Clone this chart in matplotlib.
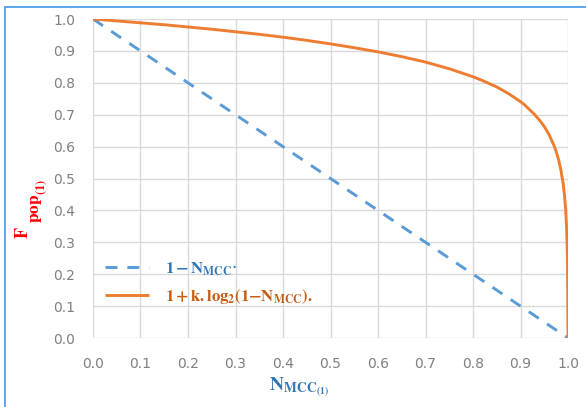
import matplotlib
matplotlib.use("Agg")
import matplotlib.pyplot as plt
from matplotlib.lines import Line2D

plt.rcParams['mathtext.fontset'] = 'stix'

# values
n_mcc = [0.0, 1.0]
f_linear = [1.0, 0.0]

n_log = [0.0, 0.05, 0.1, 0.15, 0.2, 0.25, 0.3, 0.35, 0.4, 0.45, 0.5, 0.55,
         0.6, 0.65, 0.7, 0.75, 0.8, 0.82, 0.85, 0.875, 0.9, 0.91, 0.93, 0.94,
         0.95, 0.96, 0.97, 0.975, 0.98, 0.985, 0.99, 0.9925, 0.995, 0.997,
         0.998, 0.9985, 0.999, 0.9995, 0.9998, 1.0]
f_log = [1.0, 0.994, 0.988, 0.982, 0.975, 0.968, 0.960, 0.952, 0.943, 0.933,
         0.922, 0.910, 0.897, 0.882, 0.865, 0.844, 0.819, 0.807, 0.787, 0.766,
         0.741, 0.729, 0.700, 0.683, 0.663, 0.638, 0.605, 0.585, 0.560, 0.527,
         0.482, 0.449, 0.404, 0.346, 0.300, 0.268, 0.222, 0.144, 0.041, 0.0]

ticks = [0.0, 0.1, 0.2, 0.3, 0.4, 0.5, 0.6, 0.7, 0.8, 0.9, 1.0]
tick_labels = ['%.1f' % t for t in ticks]

blue = '#5b9bd5'
orange = '#ed7d31'
W, H = 586, 407

fig = plt.figure(figsize=(5.86, 4.07), dpi=100)
ax = fig.add_axes([0.1587, 0.1695, 0.8106, 0.7838])

ax.plot(n_mcc, f_linear, color=blue, lw=2.1, dashes=(4.1, 3.4),
        label=r'$\mathbf{1-N_{MCC}}$·')
ax.plot(n_log, f_log, color=orange, lw=2.1, solid_capstyle='butt',
        label=r'$\mathbf{1+k.log_{2}(1{-}N_{MCC}).}$')

ax.set_xlim(0, 1)
ax.set_ylim(0, 1)
ax.set_xticks(ticks)
ax.set_yticks(ticks)
ax.set_xticklabels(tick_labels)
ax.set_yticklabels(tick_labels)
ax.tick_params(length=0, labelsize=10, labelcolor='#7f7f7f')
ax.tick_params(axis='x', pad=13.5)
ax.tick_params(axis='y', pad=13)
ax.grid(True, color='#d9d9d9', lw=1)
ax.set_axisbelow(True)
for s in ax.spines.values():
    s.set_visible(False)

ax.set_xlabel(r'$\mathbf{N_{MCC_{(1)}}}$', color='#2e75b6', fontsize=14)
ax.xaxis.set_label_coords(0.434, -0.118)

# y label F_pop(1): subscripts are drawn larger than mathtext would, so piece by piece
ylab = [(r'$\mathbf{F}$', 13, 28, 239),
        (r'$\mathbf{pop}$', 12.5, 39, 223),
        (r'$\mathbf{(1)}$', 9, 45, 195)]
for s, size, px, py in ylab:
    fig.text(px / W, 1 - py / H, s, color='#ff0000', fontsize=size, rotation=90,
             rotation_mode='anchor', ha='left', va='baseline')

leg = ax.legend(loc='center left', bbox_to_anchor=(0.011, 0.174), frameon=False,
                borderaxespad=0, fontsize=12, handlelength=2.64, handletextpad=0.96,
                labelspacing=0.55)
for txt, c in zip(leg.get_texts(), ['#2e75b6', '#c55a11']):
    txt.set_color(c)

# light blue frame round the picture (top and left edges)
fig.add_artist(Line2D([5 / W, 1.0], [1 - 7 / H, 1 - 7 / H], color='#5aa7f0', lw=1.4))
fig.add_artist(Line2D([5 / W, 5 / W], [0.0, 1 - 7 / H], color='#5aa7f0', lw=1.4))

fig.savefig('out.png', dpi=100)
